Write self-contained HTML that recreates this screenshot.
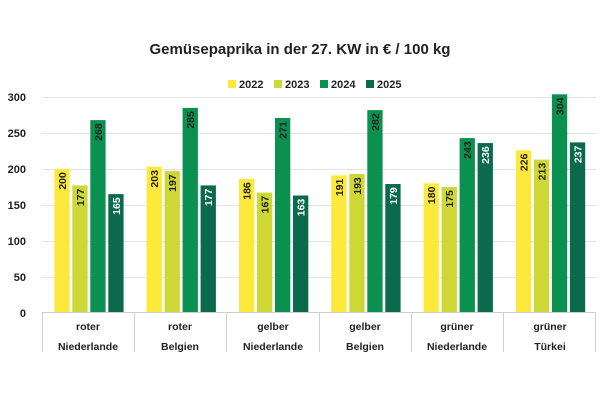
<!DOCTYPE html>
<html><head><meta charset="utf-8"><style>
body{margin:0;background:#fff;}
svg{display:block;font-family:"Liberation Sans",sans-serif;}
</style></head><body>
<svg width="600" height="400" viewBox="0 0 600 400" xmlns="http://www.w3.org/2000/svg">
<rect width="600" height="400" fill="#fff"/>
<text x="300" y="54" text-anchor="middle" font-size="15" font-weight="bold" fill="#222">Gemüsepaprika in der 27. KW in € / 100 kg</text>
<g font-size="11" font-weight="bold" fill="#222">
<rect x="228" y="80" width="8" height="8" fill="#fde93c"/><text x="239" y="88">2022</text>
<rect x="274" y="80" width="8" height="8" fill="#cdd837"/><text x="285" y="88">2023</text>
<rect x="320" y="80" width="8" height="8" fill="#0a9150"/><text x="331" y="88">2024</text>
<rect x="366" y="80" width="8" height="8" fill="#0b6a4c"/><text x="377" y="88">2025</text>
</g>
<g stroke="#e4e4e4" stroke-width="1">
<line x1="42" x2="596" y1="97.5" y2="97.5"/><line x1="42" x2="596" y1="133.5" y2="133.5"/>
<line x1="42" x2="596" y1="169.5" y2="169.5"/><line x1="42" x2="596" y1="205.5" y2="205.5"/>
<line x1="42" x2="596" y1="241.5" y2="241.5"/><line x1="42" x2="596" y1="277.5" y2="277.5"/>
</g>
<g font-size="11" font-weight="bold" fill="#222" text-anchor="end">
<text x="26" y="101">300</text><text x="26" y="137">250</text><text x="26" y="173">200</text>
<text x="26" y="209">150</text><text x="26" y="245">100</text><text x="26" y="281">50</text><text x="26" y="317">0</text>
</g>
<g>
<rect x="54.3" y="168.9" width="15.3" height="143.6" fill="#fde93c"/>
<rect x="72.3" y="185.4" width="15.3" height="127.1" fill="#cdd837"/>
<rect x="90.3" y="120.1" width="15.3" height="192.4" fill="#0a9150"/>
<rect x="108.3" y="194.1" width="15.3" height="118.4" fill="#0b6a4c"/>
<rect x="146.6" y="166.8" width="15.3" height="145.7" fill="#fde93c"/>
<rect x="164.6" y="171.1" width="15.3" height="141.4" fill="#cdd837"/>
<rect x="182.6" y="107.9" width="15.3" height="204.6" fill="#0a9150"/>
<rect x="200.6" y="185.4" width="15.3" height="127.1" fill="#0b6a4c"/>
<rect x="239.0" y="179.0" width="15.3" height="133.5" fill="#fde93c"/>
<rect x="257.0" y="192.6" width="15.3" height="119.9" fill="#cdd837"/>
<rect x="275.0" y="118.0" width="15.3" height="194.5" fill="#0a9150"/>
<rect x="293.0" y="195.5" width="15.3" height="117.0" fill="#0b6a4c"/>
<rect x="331.3" y="175.4" width="15.3" height="137.1" fill="#fde93c"/>
<rect x="349.3" y="174.0" width="15.3" height="138.5" fill="#cdd837"/>
<rect x="367.3" y="110.1" width="15.3" height="202.4" fill="#0a9150"/>
<rect x="385.3" y="184.0" width="15.3" height="128.5" fill="#0b6a4c"/>
<rect x="423.6" y="183.3" width="15.3" height="129.2" fill="#fde93c"/>
<rect x="441.6" y="186.9" width="15.3" height="125.6" fill="#cdd837"/>
<rect x="459.6" y="138.1" width="15.3" height="174.4" fill="#0a9150"/>
<rect x="477.6" y="143.1" width="15.3" height="169.4" fill="#0b6a4c"/>
<rect x="515.9" y="150.3" width="15.3" height="162.2" fill="#fde93c"/>
<rect x="533.9" y="159.6" width="15.3" height="152.9" fill="#cdd837"/>
<rect x="551.9" y="94.3" width="15.3" height="218.2" fill="#0a9150"/>
<rect x="569.9" y="142.4" width="15.3" height="170.1" fill="#0b6a4c"/>
</g>
<g font-size="10.5" font-weight="bold" text-anchor="middle" fill="#222">
<text transform="translate(62,180.9) rotate(-90)" y="3.8">200</text>
<text transform="translate(80,197.4) rotate(-90)" y="3.8">177</text>
<text transform="translate(98,132.1) rotate(-90)" y="3.8">268</text>
<text transform="translate(116,206.1) rotate(-90)" y="3.8" fill="#fff">165</text>
<text transform="translate(154.3,178.8) rotate(-90)" y="3.8">203</text>
<text transform="translate(172.3,183.1) rotate(-90)" y="3.8">197</text>
<text transform="translate(190.3,119.9) rotate(-90)" y="3.8">285</text>
<text transform="translate(208.3,197.4) rotate(-90)" y="3.8" fill="#fff">177</text>
<text transform="translate(246.7,191.0) rotate(-90)" y="3.8">186</text>
<text transform="translate(264.7,204.6) rotate(-90)" y="3.8">167</text>
<text transform="translate(282.7,130.0) rotate(-90)" y="3.8">271</text>
<text transform="translate(300.7,207.5) rotate(-90)" y="3.8" fill="#fff">163</text>
<text transform="translate(339,187.4) rotate(-90)" y="3.8">191</text>
<text transform="translate(357,186.0) rotate(-90)" y="3.8">193</text>
<text transform="translate(375,122.1) rotate(-90)" y="3.8">282</text>
<text transform="translate(393,196.0) rotate(-90)" y="3.8" fill="#fff">179</text>
<text transform="translate(431.3,195.3) rotate(-90)" y="3.8">180</text>
<text transform="translate(449.3,198.9) rotate(-90)" y="3.8">175</text>
<text transform="translate(467.3,150.1) rotate(-90)" y="3.8">243</text>
<text transform="translate(485.3,155.1) rotate(-90)" y="3.8" fill="#fff">236</text>
<text transform="translate(523.6,162.3) rotate(-90)" y="3.8">226</text>
<text transform="translate(541.6,171.6) rotate(-90)" y="3.8">213</text>
<text transform="translate(559.6,106.3) rotate(-90)" y="3.8">304</text>
<text transform="translate(577.6,154.4) rotate(-90)" y="3.8" fill="#fff">237</text>
</g>
<g stroke="#cfcfcf" stroke-width="1">
<line x1="42" x2="596" y1="312.5" y2="312.5"/>
<line x1="42.5" x2="42.5" y1="312" y2="352"/><line x1="134.5" x2="134.5" y1="312" y2="352"/>
<line x1="226.5" x2="226.5" y1="312" y2="352"/><line x1="319.5" x2="319.5" y1="312" y2="352"/>
<line x1="411.5" x2="411.5" y1="312" y2="352"/><line x1="503.5" x2="503.5" y1="312" y2="352"/>
<line x1="595.5" x2="595.5" y1="312" y2="352"/>
</g>
<g font-size="10.5" font-weight="bold" fill="#222" text-anchor="middle">
<text x="88" y="330">roter</text><text x="88" y="350">Niederlande</text>
<text x="180" y="330">roter</text><text x="180" y="350">Belgien</text>
<text x="273" y="330">gelber</text><text x="273" y="350">Niederlande</text>
<text x="365" y="330">gelber</text><text x="365" y="350">Belgien</text>
<text x="457" y="330">grüner</text><text x="457" y="350">Niederlande</text>
<text x="550" y="330">grüner</text><text x="550" y="350">Türkei</text>
</g>
</svg>
</body></html>
